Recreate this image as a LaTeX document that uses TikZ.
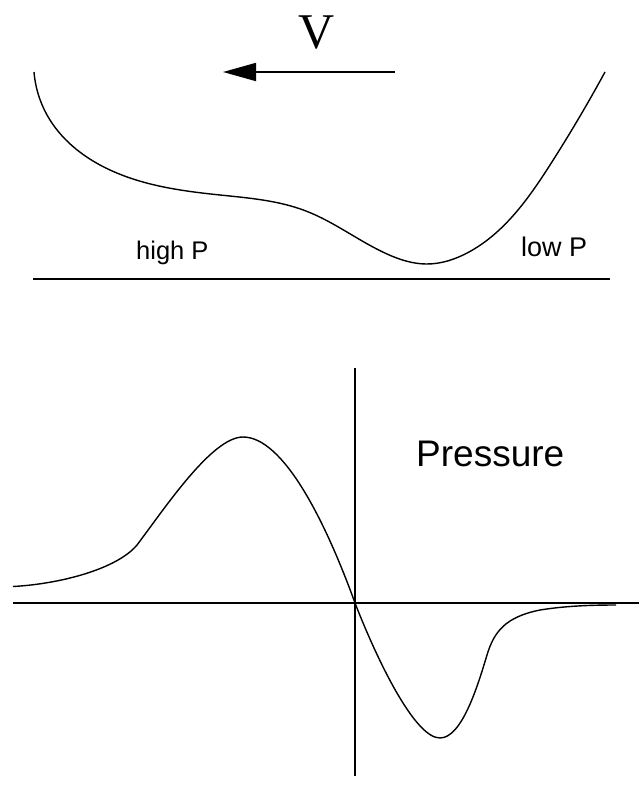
\documentclass[tikz,border=0pt]{standalone}
\usepackage{fontspec}
\setmainfont{Liberation Sans}
\newfontfamily\serifV{Liberation Serif}
\usetikzlibrary{arrows.meta,hobby}
\begin{document}
\begin{tikzpicture}[x=1pt,y=-1pt,
  curve/.style={line width=1.4pt, line join=round},
  axis/.style={line width=1.6pt},
  lbl/.style={inner sep=0pt, anchor=base west}]
\useasboundingbox (0,0) rectangle (639,806);
% top panel
\node[inner sep=0pt, anchor=base, font=\serifV\fontsize{50}{50}\selectfont] (vlab) at (317,48) {V};
\coordinate (vstart) at (395,72);
\coordinate (vend) at (223,72);
\draw[line width=1.8pt, -{Triangle[length=33pt,width=18pt]}] (vstart) -- (vend);
\draw[curve, use Hobby shortcut] (34,72) .. (50,120) .. (110,170) .. (220,195) .. (306,211)
 .. (387,254) .. (426,264) .. (469,252) .. (550,165) .. (605,72);
\coordinate (wl) at (33,279);
\coordinate (wr) at (610,279);
\draw[line width=1.9pt] (wl) -- (wr);
\node[lbl, font=\fontsize{25.5}{25.5}\selectfont] (hp) at (136,259) {high P};
\node[lbl, font=\fontsize{27}{27}\selectfont] (lp) at (521,256) {low P};
% bottom panel
\coordinate (yt) at (355,368);
\coordinate (yb) at (355,776);
\coordinate (xl) at (13,603);
\coordinate (xr) at (639,603);
\draw[axis] (yt) -- (yb);
\draw[axis] (xl) -- (xr);
\node[lbl, font=\fontsize{37}{37}\selectfont] (pr) at (416,466) {Pressure};
\draw[curve] (13,586.5)
 .. controls (60,584) and (117,569) .. (137,545)
 .. controls (165,508) and (212,437) .. (243,437)
 .. controls (283,437) and (325,520) .. (355,603)
 .. controls (378,662) and (415,738) .. (440,738)
 .. controls (462,738) and (478,685) .. (487,655)
 .. controls (494,632) and (505,617) .. (540,610)
 .. controls (565,606) and (590,605) .. (616,605);
\end{tikzpicture}
\end{document}
